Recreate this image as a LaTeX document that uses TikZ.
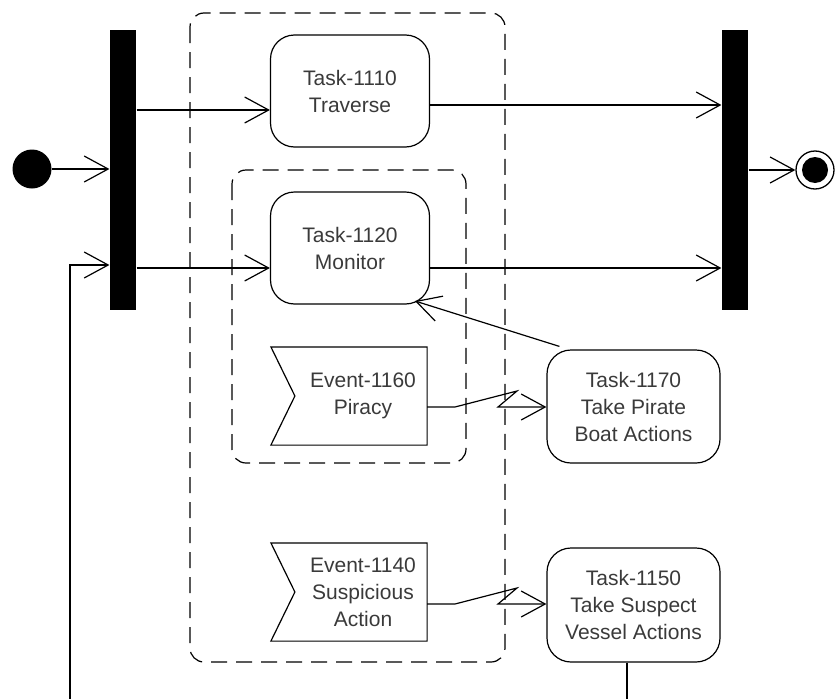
\documentclass[tikz,border=0pt]{standalone}
\usepackage{fontspec}
\setmainfont{Liberation Sans}
\usetikzlibrary{arrows.meta,calc}
\definecolor{txt}{HTML}{3A3A3A}
\begin{document}
\begin{tikzpicture}[x=1pt,y=-1pt,
  line width=1.2pt,
  flow/.style={-{Straight Barb[length=24pt,width=26pt,line width=1.2pt]}},
  bar/.style={fill=black,draw=none,minimum width=26pt,minimum height=280pt,inner sep=0pt},
  task/.style={draw,rounded corners=24pt,minimum width=159pt,minimum height=112pt,align=center,font=\fontsize{21}{27}\selectfont,text=txt,inner sep=0pt},
  evbox/.style={minimum width=155pt,minimum height=97pt,inner sep=0pt},
  evtext/.style={align=center,font=\fontsize{21}{27}\selectfont,text=txt},
  region/.style={draw,dashed,dash pattern=on 16pt off 9pt,rounded corners=14pt,line width=1.2pt}]
\useasboundingbox (0,0) rectangle (836,699);
% regions
\draw[region] (190,13) rectangle (505,662);
\draw[region] (232,170) rectangle (466,463);
% start / end
\node[circle,fill=black,minimum size=39pt,inner sep=0pt] (start) at (32,169) {};
\node[bar] (lbar) at (123,170) {};
\node[bar] (rbar) at (735,170) {};
\node[circle,draw,line width=1.3pt,minimum size=38pt,inner sep=0pt] (endo) at (815,170) {};
\node[circle,fill=black,minimum size=26pt,inner sep=0pt] (endi) at (815,170) {};
% tasks
\node[task] (t1110) at (350,91) {Task-1110\\Traverse};
\node[task] (t1120) at (350,248) {Task-1120\\Monitor};
\node[task,minimum width=173pt,minimum height=113pt] (t1170) at (633.5,406.5) {Task-1170\\Take Pirate\\Boat Actions};
\node[task,minimum width=173pt,minimum height=114pt] (t1150) at (633.5,605) {Task-1150\\Take Suspect\\Vessel Actions};
% events
\node[evbox] (e1160) at (349,396) {};
\draw (e1160.north west) -- (e1160.north east) -- (e1160.south east) -- (e1160.south west) -- ([xshift=24pt]e1160.west) -- cycle;
\node[evtext] (e1160t) at (363,396) {Event-1160\\Piracy};
\node[evbox] (e1140) at (349,592) {};
\draw (e1140.north west) -- (e1140.north east) -- (e1140.south east) -- (e1140.south west) -- ([xshift=24pt]e1140.west) -- cycle;
\node[evtext] (e1140t) at (363,592) {Event-1140\\Suspicious\\Action};
% connectors
\draw[flow] (start.east) -- (start.east -| lbar.west);
\draw[flow] (lbar.east |- 0,110) -- (t1110.west |- 0,110);
\draw[flow] (lbar.east |- 0,268) -- (t1120.west |- 0,268);
\draw[flow] (t1110.east |- 0,105) -- (rbar.west |- 0,105);
\draw[flow] (t1120.east |- 0,268) -- (rbar.west |- 0,268);
\draw[flow] (rbar.east |- endo.west) -- (endo.west);
\draw[flow] ([shift={(13pt,3pt)}]t1170.north west) -- (415,301);
\coordinate (z1a) at (455,407);
\coordinate (z1b) at (517,391);
\coordinate (z1c) at (498,407);
\draw[flow] (e1160.east |- z1a) -- (z1a) -- (z1b) -- (z1c) -- (t1170.west |- z1c);
\coordinate (z2a) at (455,604);
\coordinate (z2b) at (517,588);
\coordinate (z2c) at (498,604);
\draw[flow] (e1140.east |- z2a) -- (z2a) -- (z2b) -- (z2c) -- (t1150.west |- z2c);
% loop back
\coordinate (lb) at (70,699);
\coordinate (rb) at (627,699);
\draw[flow] (lb) -- (70,265) -- (lbar.west |- 0,265);
\draw (t1150.south -| rb) -- (rb);
\end{tikzpicture}
\end{document}
